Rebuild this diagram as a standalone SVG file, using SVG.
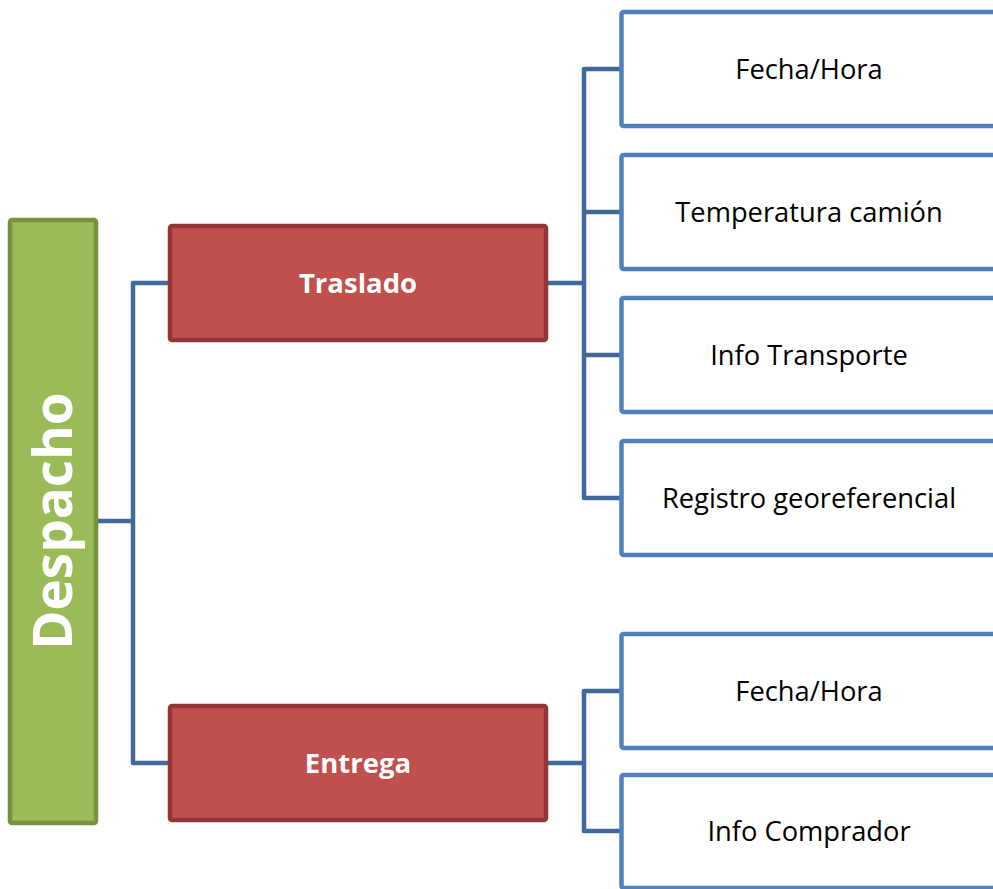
<svg xmlns="http://www.w3.org/2000/svg" width="993" height="889" viewBox="0 0 993 889">
<style>
.leaf{fill:#FFFFFF;stroke:#4F81BD;stroke-width:4.5}
.mid{fill:#C0504D;stroke:#943634;stroke-width:4.5}
.root{fill:#9BBB59;stroke:#76923C;stroke-width:4.5}
.conn{fill:none;stroke:#41699B;stroke-width:4.5;stroke-linejoin:round}
.lt{font-family:"Open Sans","Liberation Sans",sans-serif;font-size:27.3px;fill:#000;text-anchor:middle;dominant-baseline:central}
.mt{font-family:"Open Sans","Liberation Sans",sans-serif;font-size:27.5px;font-weight:bold;fill:#fff;text-anchor:middle;dominant-baseline:central}
.rt{font-family:"Open Sans","Liberation Sans",sans-serif;font-size:53px;font-weight:bold;fill:#fff;text-anchor:middle;dominant-baseline:central}
</style>
<g id="connectors">
<path class="conn" d="M98 521 H133 M168 283 H133 V763 H168"/>
<path class="conn" d="M548 283 H584 M621 69 H584 V498 H621 M584 212 H621 M584 355 H621"/>
<path class="conn" d="M548 763 H584 M621 691 H584 V831 H621"/>
</g>
<g id="despacho"><rect class="root" x="10" y="220" width="86" height="603" rx="2"/><text class="rt" transform="translate(51 521) rotate(-90)">Despacho</text></g>
<g id="traslado"><rect class="mid" x="170" y="226" width="376" height="114" rx="2"/><text class="mt" x="358" y="282">Traslado</text></g>
<g id="entrega"><rect class="mid" x="170" y="706" width="376" height="114" rx="2"/><text class="mt" x="358" y="762">Entrega</text></g>
<g id="fecha1"><rect class="leaf" x="621.5" y="12" width="400" height="114" rx="2"/><text class="lt" x="809" y="68">Fecha/Hora</text></g>
<g id="temp"><rect class="leaf" x="621.5" y="155" width="400" height="114" rx="2"/><text class="lt" x="809" y="211">Temperatura camión</text></g>
<g id="info"><rect class="leaf" x="621.5" y="298" width="400" height="114" rx="2"/><text class="lt" x="809" y="354">Info Transporte</text></g>
<g id="registro"><rect class="leaf" x="621.5" y="441" width="400" height="114" rx="2"/><text class="lt" x="809" y="497">Registro georeferencial</text></g>
<g id="fecha2"><rect class="leaf" x="621.5" y="634" width="400" height="114" rx="2"/><text class="lt" x="809" y="690">Fecha/Hora</text></g>
<g id="comprador"><rect class="leaf" x="621.5" y="775" width="400" height="113" rx="2"/><text class="lt" x="809" y="830">Info Comprador</text></g>
</svg>
